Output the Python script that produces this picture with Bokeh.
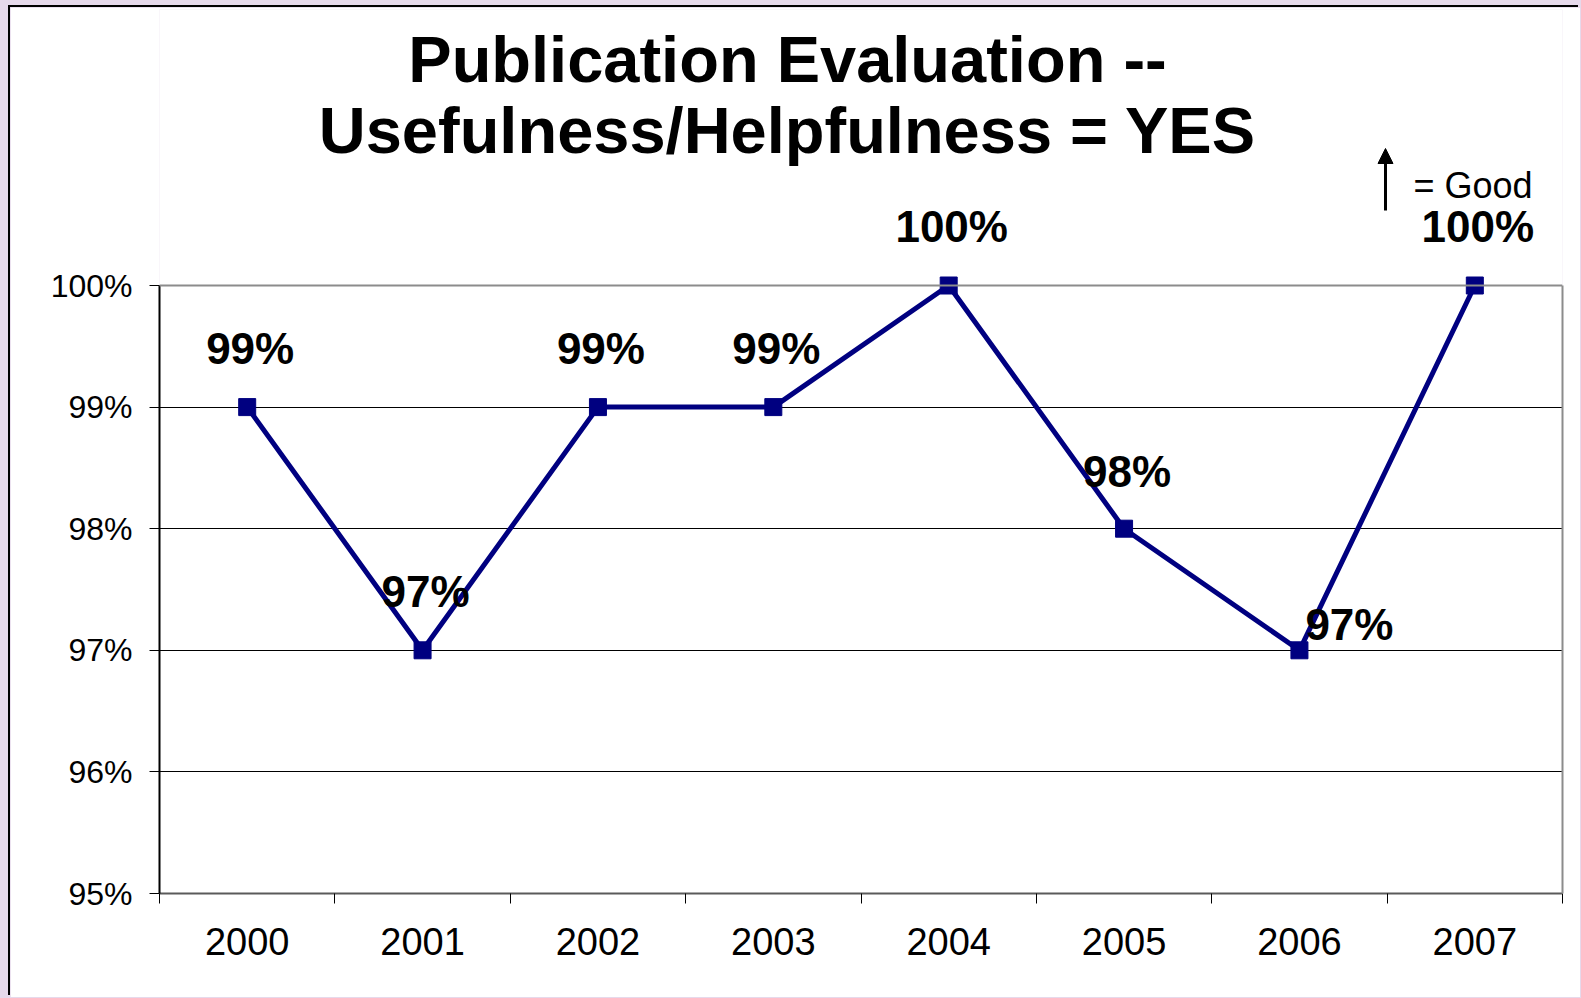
from bokeh.plotting import figure
from bokeh.models import (ColumnDataSource, FixedTicker, LabelSet, Arrow,
                          NormalHead, Range1d, Span, LinearAxis)
from bokeh.core.properties import value
from bokeh.embed import file_html
from bokeh.resources import INLINE

# ---- data ----
years = ["2000", "2001", "2002", "2003", "2004", "2005", "2006", "2007"]
values = [99, 97, 99, 99, 100, 98, 97, 100]
value_labels = ["99%", "97%", "99%", "99%", "100%", "98%", "97%", "100%"]
y_ticks = [95, 96, 97, 98, 99, 100]
y_tick_labels = ["95%", "96%", "97%", "98%", "99%", "100%"]
title_lines = ["Publication Evaluation --", "Usefulness/Helpfulness = YES"]
legend_text = "= Good"

# ---- layout (page pixels) ----
OX, OY = 10, 7                 # figure origin on the page (css padding)
W, H = 1570, 990
PAGE_FL, PAGE_FR = 159, 1562   # frame left/right
PAGE_Y100, PAGE_Y95 = 285, 893 # y of 100% and 95%
BT = 2
BL = PAGE_FL - OX
BR = OX + W - PAGE_FR
BB = OY + H - PAGE_Y95
FONT = "Liberation Sans"
NAVY = "#000080"

n = len(years)
xs = [i + 0.5 for i in range(n)]
y_lo, y_hi = y_ticks[0], y_ticks[-1]
syk = (PAGE_Y95 - PAGE_Y100) / (y_hi - y_lo)
sxk = (PAGE_FR - PAGE_FL) / n
y_end = y_lo + (PAGE_Y95 - (OY + BT)) / syk

def dxp(px):
    return (px - PAGE_FL) / sxk
def dyp(py):
    return y_hi + (PAGE_Y100 - py) / syk

p = figure(width=W, height=H, output_backend="svg", toolbar_location=None,
           x_range=Range1d(0, n), y_range=Range1d(y_lo, y_end),
           min_border_left=BL, min_border_right=BR, min_border_top=BT,
           min_border_bottom=BB, background_fill_color="white",
           border_fill_color="white")
p.styles = {"box-shadow": "-2px -2px 0 0 #000000"}
p.outline_line_color = None

# x axis
p.xaxis.ticker = FixedTicker(ticks=xs, minor_ticks=list(range(n + 1)))
p.xaxis.major_label_overrides = {x: y for x, y in zip(xs, years)}
p.xaxis.major_tick_in = 0
p.xaxis.major_tick_out = 0
p.xaxis.minor_tick_in = 0
p.xaxis.minor_tick_out = 10
p.xaxis.minor_tick_line_color = "black"
p.xaxis.minor_tick_line_width = 1
p.xaxis.axis_line_color = "#5a5a5a"
p.xaxis.axis_line_width = 2
p.xaxis.major_label_text_font = FONT
p.xaxis.major_label_text_font_size = "38px"
p.xaxis.major_label_text_color = "black"
p.xaxis.major_label_standoff = 24

# y axis
p.yaxis.ticker = FixedTicker(ticks=y_ticks, minor_ticks=[])
p.yaxis.bounds = (y_lo, y_hi)
p.yaxis.major_label_overrides = {t: l for t, l in zip(y_ticks, y_tick_labels)}
p.yaxis.major_tick_in = 0
p.yaxis.major_tick_out = 10
p.yaxis.major_tick_line_color = "black"
p.yaxis.minor_tick_line_color = None
p.yaxis.axis_line_color = "black"
p.yaxis.axis_line_width = 2
p.yaxis.major_label_text_font = FONT
p.yaxis.major_label_text_font_size = "32px"
p.yaxis.major_label_text_color = "black"
p.yaxis.major_label_standoff = 17

# right border of the plot area
rax = LinearAxis(ticker=FixedTicker(ticks=[], minor_ticks=[]), bounds=(y_lo, y_hi),
                 axis_line_color="#8c8c8c", axis_line_width=2,
                 major_tick_line_color=None, minor_tick_line_color=None,
                 major_label_text_font_size="1px")
p.add_layout(rax, "right")

p.xgrid.visible = False
p.ygrid.ticker = FixedTicker(ticks=y_ticks[1:-1])
p.ygrid.grid_line_color = "black"
p.ygrid.grid_line_width = 1
# top border of the plot area
p.add_layout(Span(location=y_hi, dimension="width", line_color="#8c8c8c", line_width=2))

# series
p.line(xs, values, line_color=NAVY, line_width=5)
p.scatter(xs, values, marker="square", size=17, fill_color=NAVY, line_color=NAVY)

# data labels (offsets in screen px)
label_dx = [3, 3, 3, 3, 3, 3, 50, 3]
label_dy = [43, 43, 43, 43, 44, 42, 10, 44]
src = ColumnDataSource(dict(x=xs, y=values, t=value_labels, dx=label_dx, dy=label_dy))
p.add_layout(LabelSet(x="x", y="y", text="t", x_offset="dx", y_offset="dy",
                      source=src, text_font=value(FONT), text_font_size=value("44px"),
                      text_font_style="bold", text_align="center",
                      text_baseline="alphabetic", text_color="black"))

# title
tsrc = ColumnDataSource(dict(x=[dxp(787)] * 2, y=[dyp(81), dyp(152)], t=title_lines))
p.add_layout(LabelSet(x="x", y="y", text="t", source=tsrc, text_font=value(FONT),
                      text_font_size=value("65px"), text_font_style="bold",
                      text_align="center", text_baseline="alphabetic",
                      text_color="black"))

# "arrow = Good"
p.add_layout(Arrow(x_start=dxp(1385), y_start=dyp(210), x_end=dxp(1385), y_end=dyp(148),
                   line_color="black", line_width=3,
                   end=NormalHead(size=15, fill_color="black", line_color="black")))
gsrc = ColumnDataSource(dict(x=[dxp(1413)], y=[dyp(197)], t=[legend_text]))
p.add_layout(LabelSet(x="x", y="y", text="t", source=gsrc, text_font=value(FONT),
                      text_font_size=value("36px"), text_align="left",
                      text_baseline="alphabetic", text_color="black"))

html = file_html(p, INLINE)
css = ("<style>html,body{background-color:#e6d9eb !important;}"
       "body{padding:%dpx 0 0 %dpx !important;margin:0 !important;"
       "overflow:hidden;}</style>" % (OY, OX))
html = html.replace("</head>", css + "</head>", 1)
open("out.html", "w").write(html)
